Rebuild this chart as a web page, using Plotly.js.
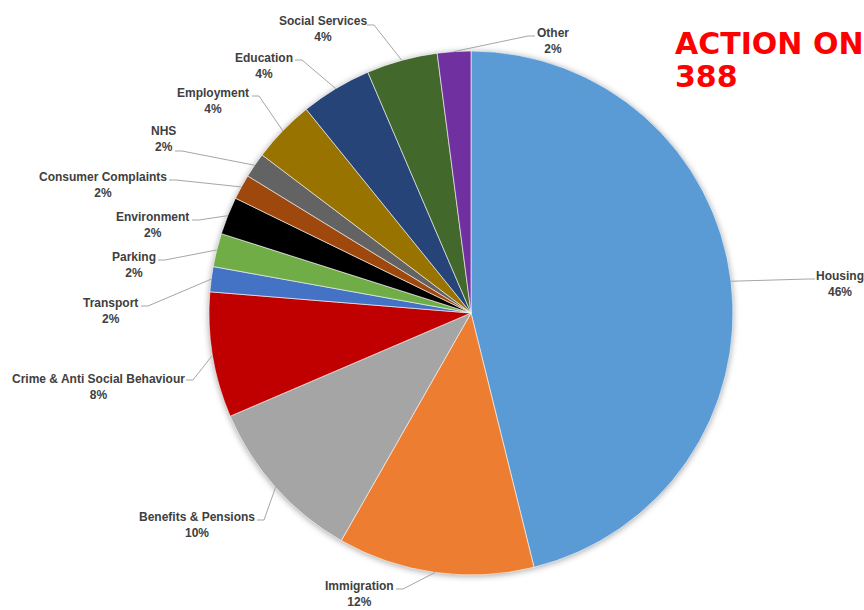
<!DOCTYPE html>
<html><head><meta charset="utf-8">
<script src="https://cdn.plot.ly/plotly-3.0.1.min.js"></script>
<style>
html,body{margin:0;padding:0;background:#fff}
#chart{width:864px;height:610px}
.pielayer .trace{filter:drop-shadow(0px 1px 3px rgba(0,0,0,0.35));}
</style></head><body><div id="chart"></div>
<script>
// ---- data ----
const categories = ['Housing','Immigration','Benefits & Pensions','Crime & Anti Social Behaviour','Transport','Parking','Environment','Consumer Complaints','NHS','Employment','Education','Social Services','Other'];
const counts = [179, 47, 40, 30, 6, 8, 9, 6, 6, 15, 17, 17, 8];
const titleLines = ['ACTION ON', '388'];

// ---- styling ----
const colors = ['#5B9BD5','#ED7D31','#A5A5A5','#C00000','#4472C4','#70AD47','#000000','#9E480E','#636363','#997300','#264478','#43682B','#7030A0'];
const W = 864, H = 610, CX = 471, CY = 313, R = 262;
// label block centres (px) and leader attach points (px)
const labelCenters = [[840,284],[359,594],[197,525],[98,387],[111,311],[134,265],[152,225],[103,185],[163,139],[213,101],[264,66],[323,29],[553,41]];
const attachPts = [[815,279],[396,589],[257,520],[186,380],[141,306],[158,260],[192,220],[169,180],[175,151],[252,96],[295,60],[367,25],[535,36]];
const stubDir = [-1,1,1,1,1,1,1,1,1,1,1,1,-1];

const px = x => x / W, py = y => 1 - y / H;
const total = counts.reduce((a,b)=>a+b,0);

const annotations = [];
const shapes = [];
let cum = 0;
categories.forEach((c,i)=>{
  const th = 2*Math.PI*(cum + counts[i]/2)/total;
  cum += counts[i];
  const hx = CX + R*Math.sin(th), hy = CY - R*Math.cos(th);
  const [ax, ay] = attachPts[i];
  const ex = ax + stubDir[i]*7;
  shapes.push({type:'path', xref:'paper', yref:'paper',
    path:`M${px(hx)},${py(hy)} L${px(ex)},${py(ay)} L${px(ax)},${py(ay)}`,
    line:{color:'#A6A6A6', width:1}});
  const pct = Math.round(counts[i]/total*100) + '%';
  annotations.push({xref:'paper', yref:'paper', x:px(labelCenters[i][0]), y:py(labelCenters[i][1]),
    xanchor:'center', yanchor:'middle', showarrow:false, align:'center',
    text: c + '<br>' + pct,
    font:{family:'Liberation Sans, Arial, sans-serif', size:12, weight:'bold', color:'#404040'}});
});
annotations.push({xref:'paper', yref:'paper', x:px(673), y:py(43.6), xanchor:'left', yanchor:'middle', showarrow:false,
  text:titleLines[0], font:{family:'DejaVu Sans, sans-serif', size:30, weight:'bold', color:'#FF0000'}});
annotations.push({xref:'paper', yref:'paper', x:px(673), y:py(76.6), xanchor:'left', yanchor:'middle', showarrow:false,
  text:titleLines[1], font:{family:'DejaVu Sans, sans-serif', size:30, weight:'bold', color:'#FF0000'}});

const trace = {
  type:'pie', labels:categories, values:counts, sort:false, direction:'clockwise', rotation:0,
  textinfo:'none', hoverinfo:'label+percent',
  marker:{colors:colors, line:{color:'#FFFFFF', width:0.6}},
  domain:{x:[(CX-R)/W, (CX+R)/W], y:[(H-CY-R)/H, (H-CY+R)/H]},
  showlegend:false
};
const layout = {width:W, height:H, margin:{l:0,r:0,t:0,b:0}, paper_bgcolor:'#fff', plot_bgcolor:'#fff',
  showlegend:false, annotations, shapes};
Plotly.newPlot('chart',[trace],layout,{displayModeBar:false, staticPlot:true});
</script></body></html>
